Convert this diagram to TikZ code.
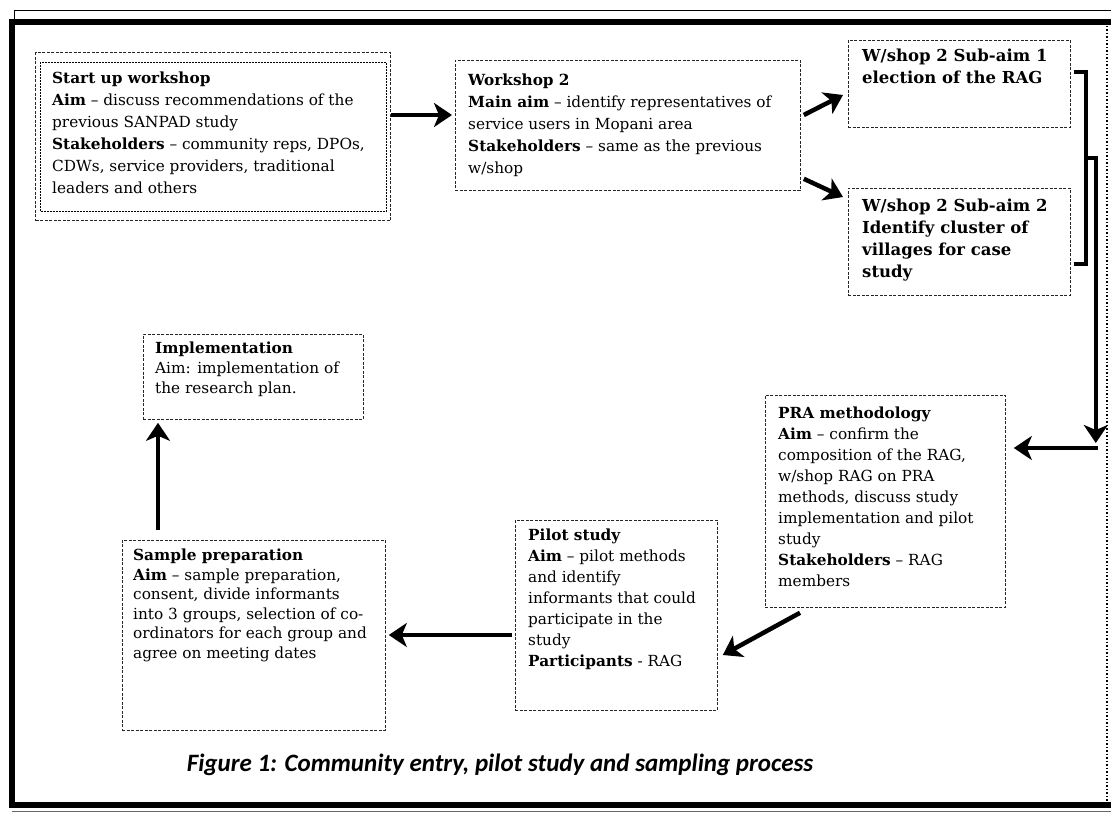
\documentclass[tikz,border=0pt]{standalone}
\usepackage{fontspec}
\setmainfont{DejaVu Serif}
\newfontfamily\capfont{Carlito}
\usetikzlibrary{arrows.meta,calc}
\begin{document}
\begin{tikzpicture}[x=1pt,y=-1pt,
  box/.style={draw=black!85, line width=0.8pt, dash pattern=on 3pt off 1.5pt, rectangle, inner sep=0pt, anchor=north west},
  txt/.style={anchor=north west, inner sep=0pt, align=left, font=\fontsize{15.3}{22}\selectfont},
  arr/.style={line width=4.5pt, line join=miter, -{Stealth[length=18pt,width=24pt,inset=5pt]}},
  heavy/.style={line width=4.5pt, line join=miter},
  framel/.style={line width=6pt, line join=miter}
]
\useasboundingbox (0,0) rectangle (1111,814);
% frame
\draw[line width=1pt] (14,20) -- (14,10) -- (1111,10);
\draw[framel] (1111,22) -- (12,22) -- (12,805) -- (1111,805);
\draw[line width=0.8pt, black!60] (12,811) -- (1111,811);
\draw[line width=1.5pt, dotted] (1107,22) -- (1107,805);

% boxes
\node[box, line width=1.3pt, minimum width=355pt, minimum height=168pt] (start) at (35,52) {};
\draw[line width=0.6pt, dash pattern=on 2pt off 1pt] ($(start.north west)+(5,10)$) rectangle ($(start.south east)+(-5,-10)$);
\node[box, minimum width=345pt, minimum height=130pt] (ws2) at (455,60) {};
\node[box, minimum width=222pt, minimum height=87pt] (sub1) at (848,40) {};
\node[box, minimum width=222pt, minimum height=107pt] (sub2) at (848,188) {};
\node[box, minimum width=220pt, minimum height=85pt] (impl) at (143,334) {};
\node[box, minimum width=240pt, minimum height=212pt] (pra) at (765,395) {};
\node[box, minimum width=202pt, minimum height=190pt] (pilot) at (515,520) {};
\node[box, minimum width=263pt, minimum height=190pt] (sample) at (122,540) {};

% texts
\node[txt] (startT) at ($(start.north west)+(17,20)$) {\textbf{Start up workshop}\\ \textbf{Aim} – discuss recommendations of the\\ previous SANPAD study\\ \textbf{Stakeholders} – community reps, DPOs,\\ CDWs, service providers, traditional\\ leaders and others};
\node[txt] (ws2T) at ($(ws2.north west)+(13,14)$) {\textbf{Workshop 2}\\ \textbf{Main aim} – identify representatives of\\ service users in Mopani area\\ \textbf{Stakeholders} – same as the previous\\ w/shop};
\node[txt, font=\bfseries\fontsize{16.5}{22}\selectfont] (sub1T) at ($(sub1.north west)+(14,9)$) {W/shop 2 Sub-aim 1\\ election of the RAG};
\node[txt, font=\bfseries\fontsize{16.5}{22}\selectfont] (sub2T) at ($(sub2.north west)+(14,11)$) {W/shop 2 Sub-aim 2\\ Identify cluster of\\ villages for case\\ study};
\node[txt, font=\fontsize{15.3}{20}\selectfont] (implT) at ($(impl.north west)+(12,8)$) {\textbf{Implementation}\\ Aim: implementation of\\ the research plan.};
\node[txt, font=\fontsize{15.3}{21}\selectfont] (praT) at ($(pra.north west)+(13,12)$) {\textbf{PRA methodology}\\ \textbf{Aim} – confirm the\\ composition of the RAG,\\ w/shop RAG on PRA\\ methods, discuss study\\ implementation and pilot\\ study\\ \textbf{Stakeholders} – RAG\\ members};
\node[txt, font=\fontsize{15.3}{21}\selectfont] (pilotT) at ($(pilot.north west)+(13,9)$) {\textbf{Pilot study}\\ \textbf{Aim} – pilot methods\\ and identify\\ informants that could\\ participate in the\\ study\\ \textbf{Participants} - RAG};
\node[txt, font=\fontsize{15.3}{19.5}\selectfont] (sampleT) at ($(sample.north west)+(11,9)$) {\textbf{Sample preparation}\\ \textbf{Aim} – sample preparation,\\ consent, divide informants\\ into 3 groups, selection of co-\\ ordinators for each group and\\ agree on meeting dates};

% caption
\node[font=\capfont\bfseries\itshape\fontsize{25}{29}\selectfont, inner sep=0pt] (cap) at (500,765) {Figure 1: Community entry, pilot study and sampling process};

% connectors
\coordinate (a1s) at ($(start.north east)+(0,63)$);
\coordinate (a1e) at ($(ws2.north west)+(-3,55)$);
\draw[arr] (a1s) -- (a1e);
\coordinate (a2s) at ($(ws2.north east)+(3,55)$);
\coordinate (a2e) at ($(sub1.north west)+(-5,55)$);
\draw[arr] (a2s) -- (a2e);
\coordinate (a3s) at ($(ws2.south east)+(3,-12)$);
\coordinate (a3e) at ($(sub2.north west)+(-5,9)$);
\draw[arr] (a3s) -- (a3e);

\coordinate (bk1) at ($(sub1.north east)+(3,32)$);
\coordinate (bk2) at ($(sub1.north east)+(15,32)$);
\coordinate (bk3) at ($(sub2.south east)+(15,-32)$);
\coordinate (bk4) at ($(sub2.south east)+(3,-32)$);
\draw[heavy] (bk1) -- (bk2) -- (bk3) -- (bk4);

\coordinate (dn1) at ($(sub2.north east)+(13,-30)$);
\coordinate (dn2) at ($(sub2.north east)+(25,-30)$);
\coordinate (dn3) at ($(pra.north east)+(90,48)$);
\draw[arr] (dn1) -- (dn2) -- (dn3);
\coordinate (h1) at ($(pra.north east)+(92,53)$);
\coordinate (h2) at ($(pra.north east)+(8,53)$);
\draw[arr] (h1) -- (h2);

\coordinate (p1) at ($(pra.south west)+(35,5)$);
\coordinate (p2) at ($(pilot.north east)+(5,135)$);
\draw[arr] (p1) -- (p2);
\coordinate (q1) at ($(pilot.north west)+(-3,115)$);
\coordinate (q2) at ($(sample.north east)+(3,95)$);
\draw[arr] (q1) -- (q2);
\coordinate (r1) at ($(sample.north west)+(36,-10)$);
\coordinate (r2) at ($(impl.south west)+(15,3)$);
\draw[arr] (r1) -- (r2);
\end{tikzpicture}
\end{document}
